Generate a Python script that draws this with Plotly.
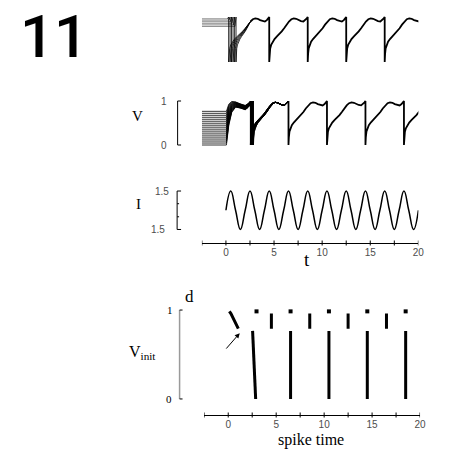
import plotly.graph_objects as go

W, H = 452, 449

# ---------------------------------------------------------------------------
# Data
# ---------------------------------------------------------------------------
# One phase-locked firing cycle: time since reset and membrane voltage V
cycle_phase = [0, 0.04, 0.10, 0.20, 0.35, 0.55, 0.80, 1.05, 1.30, 1.55, 1.80,
               2.05, 2.30, 2.55, 2.80, 3.05, 3.30, 3.55, 3.75, 3.90, 4.00]
cycle_v = [0, 0.18, 0.30, 0.38, 0.45, 0.51, 0.57, 0.62, 0.68, 0.75, 0.83,
           0.90, 0.95, 0.97, 0.96, 0.93, 0.91, 0.90, 0.93, 0.97, 1.00]

T_START, T_END = -2.5, 20.0
A_RISE = 0.12            # high initial voltages climb to threshold in this time

# Branch A: high initial voltages -> first spike almost at once
a_v0 = [0.79, 0.825, 0.86, 0.895, 0.93, 0.96]
a_first_spike = [1.05, 0.90, 0.74, 0.58, 0.43, 0.28]
a_merge_t, a_merge_phase = 2.55, 2.05
a_spikes = [4.5, 8.5, 12.5, 16.5]

# Branch B: low initial voltages -> first spike near t = 2.5 .. 2.9
b_v0 = [0.0, 0.045, 0.09, 0.135, 0.18, 0.225, 0.27, 0.315, 0.36, 0.405,
        0.45, 0.495, 0.54, 0.585, 0.63, 0.675, 0.72, 0.765]
b_first_spike = [2.86, 2.84, 2.82, 2.80, 2.78, 2.77, 2.75, 2.73, 2.71, 2.69,
                 2.67, 2.65, 2.63, 2.62, 2.60, 2.58, 2.56, 2.54]
# upper / lower edge of the bundle before the first spike
b_env_t = [0.05, 0.3, 0.6, 1.0, 1.5, 2.0, 2.3]
b_hi_v = [0.765, 0.93, 0.99, 0.98, 0.93, 0.90, 0.94]
b_lo_v = [0.0, 0.45, 0.74, 0.86, 0.84, 0.80, 0.85]
b_spikes = [6.5, 10.5, 14.5, 18.5]

# Initial voltages right at threshold
c_v0 = 0.985
c_spikes = [0.12, 2.95, 6.5, 10.5, 14.5, 18.5]

# Periodic drive current I(t)
stim_t = [0, 0.5, 1, 1.5, 2, 2.5, 3, 3.5, 4, 4.5, 5, 5.5, 6, 6.5, 7, 7.5, 8,
          8.5, 9, 9.5, 10, 10.5, 11, 11.5, 12, 12.5, 13, 13.5, 14, 14.5, 15,
          15.5, 16, 16.5, 17, 17.5, 18, 18.5, 19, 19.5, 20]
stim_i = [1.0, 1.5, 1.0, 0.5, 1.0, 1.5, 1.0, 0.5, 1.0, 1.5, 1.0, 0.5, 1.0,
          1.5, 1.0, 0.5, 1.0, 1.5, 1.0, 0.5, 1.0, 1.5, 1.0, 0.5, 1.0, 1.5,
          1.0, 0.5, 1.0, 1.5, 1.0, 0.5, 1.0, 1.5, 1.0, 0.5, 1.0, 1.5, 1.0,
          0.5, 1.0]

time_ticks = [-2.5, 0, 2.5, 5, 7.5, 10, 12.5, 15, 17.5, 20]
time_labels = [0, 5, 10, 15, 20]


# ---------------------------------------------------------------------------
# Helpers
# ---------------------------------------------------------------------------
def cycle_segment(t0, t1, p0=0.0, p1=4.0):
    """Cycle profile between phases p0..p1 laid onto the time span t0..t1."""
    ts, vs = [], []
    for p, v in zip(cycle_phase, cycle_v):
        if p0 <= p <= p1:
            ts.append(t0 + (p - p0) * (t1 - t0) / (p1 - p0))
            vs.append(v)
    return ts, vs


def px_x(px):
    return px / W


def px_y(py):
    return 1 - py / H


BLACK = "black"
GREY_TXT = "#4d4d4d"
fig = go.Figure()

# ---------------------------------------------------------------------------
# Panel a: high initial voltages
# ---------------------------------------------------------------------------
for v0, tf in zip(a_v0, a_first_spike):
    # held level, drawn as thin grey lines
    fig.add_trace(go.Scatter(x=[T_START, tf - A_RISE], y=[v0, v0],
                             mode="lines", xaxis="x", yaxis="y",
                             line=dict(color="#707070", width=0.8),
                             hoverinfo="skip"))
    xs = [tf - A_RISE, tf, tf]
    ys = [v0, 1.0, 0.0]
    sx, sy = cycle_segment(tf, a_merge_t, 0.0, a_merge_phase)
    xs += sx[1:]
    ys += sy[1:]
    fig.add_trace(go.Scatter(x=xs, y=ys, mode="lines", xaxis="x", yaxis="y",
                             line=dict(color=BLACK, width=0.8),
                             hoverinfo="skip"))

ax_, ay_ = cycle_segment(a_merge_t, a_spikes[0], a_merge_phase, 4.0)
for s in a_spikes:
    sx, sy = cycle_segment(s, s + 4.0)
    ax_ += sx
    ay_ += sy
fig.add_trace(go.Scatter(x=ax_, y=ay_, mode="lines", xaxis="x", yaxis="y",
                         line=dict(color=BLACK, width=1.8), hoverinfo="skip"))

# ---------------------------------------------------------------------------
# Panel b: low initial voltages
# ---------------------------------------------------------------------------
v_top = b_v0[-1]
for v0, tf in zip(b_v0, b_first_spike):
    f = v0 / v_top
    xs = [T_START] + b_env_t + [tf]
    ys = [v0] + [f * hi + (1 - f) * lo for hi, lo in zip(b_hi_v, b_lo_v)] + [1.0]
    sx, sy = cycle_segment(tf, b_spikes[0])
    xs += sx
    ys += sy
    fig.add_trace(go.Scatter(x=xs, y=ys, mode="lines", xaxis="x2", yaxis="y2",
                             line=dict(color=BLACK, width=0.8),
                             hoverinfo="skip"))

bx_, by_ = [b_spikes[0]], [1.0]
for s in b_spikes:
    sx, sy = cycle_segment(s, s + 4.0)
    bx_ += sx
    by_ += sy
fig.add_trace(go.Scatter(x=bx_, y=by_, mode="lines", xaxis="x2", yaxis="y2",
                         line=dict(color=BLACK, width=1.8), hoverinfo="skip"))

# ---------------------------------------------------------------------------
# Panel c: drive current
# ---------------------------------------------------------------------------
fig.add_trace(go.Scatter(x=stim_t, y=stim_i, mode="lines", xaxis="x3",
                         yaxis="y3", line=dict(color=BLACK, width=1.5,
                                               shape="spline", smoothing=1.3),
                         hoverinfo="skip"))

# ---------------------------------------------------------------------------
# Panel d: spike times against initial voltage
# ---------------------------------------------------------------------------
thick = dict(color=BLACK, width=3)
# first spikes of the upper branch (including the threshold cell)
fig.add_trace(go.Scatter(x=a_first_spike + [c_spikes[0]], y=a_v0 + [c_v0],
                         mode="lines", xaxis="x4", yaxis="y4", line=thick,
                         hoverinfo="skip"))
for s in a_spikes:
    fig.add_trace(go.Scatter(x=[s] * len(a_v0), y=a_v0, mode="lines",
                             xaxis="x4", yaxis="y4", line=thick,
                             hoverinfo="skip"))
# lower branch
fig.add_trace(go.Scatter(x=b_first_spike, y=b_v0, mode="lines", xaxis="x4",
                         yaxis="y4", line=thick, hoverinfo="skip"))
for s in b_spikes:
    fig.add_trace(go.Scatter(x=[s] * len(b_v0), y=b_v0, mode="lines",
                             xaxis="x4", yaxis="y4", line=thick,
                             hoverinfo="skip"))
# later spikes of the threshold cell
fig.add_trace(go.Scatter(x=c_spikes[1:], y=[c_v0] * (len(c_spikes) - 1),
                         mode="markers", xaxis="x4", yaxis="y4",
                         marker=dict(color=BLACK, size=4, symbol="square"),
                         hoverinfo="skip", cliponaxis=False))

# ---------------------------------------------------------------------------
# Axes
# ---------------------------------------------------------------------------
top_dom = [px_x(204.6), px_x(424.0)]
bot_dom = [px_x(207.0), px_x(425.7)]
a_dom = [px_y(64.25), px_y(14.75)]
b_dom = [px_y(147.2), px_y(98.8)]
c_dom = [px_y(231.4), px_y(189.1)]
d_dom = [px_y(404.3), px_y(304.7)]

hidden = dict(visible=False, showgrid=False, zeroline=False, fixedrange=True)
tickfont = dict(family="Liberation Sans", size=10, color=GREY_TXT)
time_axis = dict(range=[T_START, T_END], showgrid=False, zeroline=False,
                 showline=True, linecolor=BLACK, linewidth=1, ticks="",
                 tickvals=time_labels, ticktext=[str(v) for v in time_labels],
                 tickfont=tickfont, ticklabelstandoff=0, anchor="free",
                 fixedrange=True)

fig.update_layout(
    width=W, height=H, margin=dict(l=0, r=0, t=0, b=0),
    paper_bgcolor="white", plot_bgcolor="rgba(0,0,0,0)", showlegend=False,
    xaxis=dict(domain=top_dom, range=[T_START, T_END], anchor="y", **hidden),
    yaxis=dict(domain=a_dom, range=[-0.05, 1.05], anchor="x", **hidden),
    xaxis2=dict(domain=top_dom, range=[T_START, T_END], anchor="y2", **hidden),
    yaxis2=dict(domain=b_dom, range=[-0.05, 1.05], anchor="x2", **hidden),
    xaxis3=dict(domain=top_dom, position=px_y(243), **time_axis),
    yaxis3=dict(domain=c_dom, range=[0.45, 1.55], anchor="x3", **hidden),
    xaxis4=dict(domain=bot_dom, position=px_y(415), **time_axis),
    yaxis4=dict(domain=d_dom, range=[-0.06, 1.06], anchor="x4", **hidden),
)

# ---------------------------------------------------------------------------
# Brackets and tick marks
# ---------------------------------------------------------------------------
shapes = []


def seg(x0, y0, x1, y1, xref, yref, color=BLACK, width=1):
    shapes.append(dict(type="line", x0=x0, y0=y0, x1=x1, y1=y1, xref=xref,
                       yref=yref, line=dict(color=color, width=width)))


# V bracket (panel b)
seg(px_x(180), 0, px_x(180), 1, "paper", "y2")
for v in (0, 1):
    seg(px_x(180), v, px_x(183.5), v, "paper", "y2")
# I bracket (panel c)
seg(px_x(179.5), 0.5, px_x(179.5), 1.5, "paper", "y3")
for v in (0.5, 1.5):
    seg(px_x(179.5), v, px_x(183.5), v, "paper", "y3")
for v in (0.83, 1.17):
    seg(px_x(179.5), v, px_x(181.5), v, "paper", "y3")
# V_init axis (panel d)
seg(px_x(182), 0, px_x(182), 1, "paper", "y4", color="#9a9a9a", width=1.5)
for v in (0, 1):
    seg(px_x(182), v, px_x(185), v, "paper", "y4")
# time-axis ticks crossing the axis line
for tv in time_ticks:
    seg(tv, px_y(240.5), tv, px_y(245.5), "x3", "paper")
    seg(tv, px_y(412.5), tv, px_y(417.5), "x4", "paper")

# ---------------------------------------------------------------------------
# Text
# ---------------------------------------------------------------------------
serif = "Liberation Serif"
sans = "Liberation Sans"
annotations = []


def label(text, x, y, size, family, yref="paper", color=BLACK,
          xanchor="center", weight="normal"):
    annotations.append(dict(text=text, x=x, y=y, xref="paper", yref=yref,
                            showarrow=False, xanchor=xanchor, yanchor="middle",
                            font=dict(family=family, size=size, color=color,
                                      weight=weight)))


label("11", px_x(55), px_y(36), 60, "Roboto", weight=500)
label("V", px_x(139), px_y(116), 15, serif)
label("1", px_x(166), 1, 10, sans, yref="y2", color=GREY_TXT)
label("0", px_x(166), 0, 10, sans, yref="y2", color=GREY_TXT)
label("I", px_x(140), px_y(204), 15, serif)
label("1.5", px_x(164), 1.5, 10, sans, yref="y3", color=GREY_TXT)
label("1.5", px_x(160), 0.5, 10, sans, yref="y3", color=GREY_TXT)
label("t", px_x(311), px_y(259), 19, serif)
label("d", px_x(192), px_y(296), 17, serif)
label("V<sub>init</sub>", px_x(129), px_y(352), 16, serif, xanchor="left")
label("1", px_x(172), 1, 11, serif, yref="y4")
label("0", px_x(171), 0, 11, serif, yref="y4")
label("spike time", px_x(315), px_y(439.5), 16, serif)

# arrow pointing at the upper branch of first spikes
annotations.append(dict(x=1.2, y=0.74, xref="x4", yref="y4", ax=-0.34,
                        ay=0.55, axref="x4", ayref="y4", showarrow=True,
                        arrowhead=2, arrowsize=1, arrowwidth=1,
                        arrowcolor=BLACK, text=""))

fig.update_layout(shapes=shapes, annotations=annotations)
fig.write_html("out.html")
